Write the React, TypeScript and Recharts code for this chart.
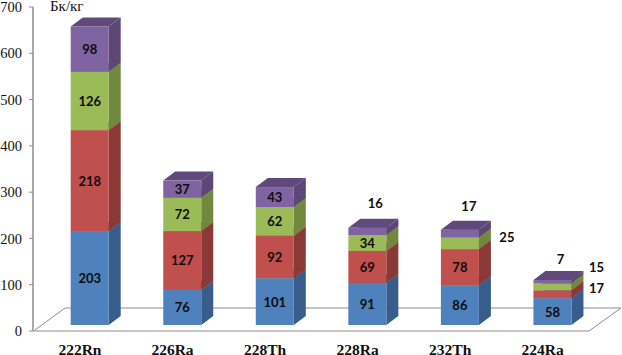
import React from "react";
import { BarChart, Bar, XAxis, YAxis, LabelList } from "recharts";

const categories = ["222Rn", "226Ra", "228Th", "228Ra", "232Th", "224Ra"];
const blueValues = [203, 76, 101, 91, 86, 58];
const redValues = [218, 127, 92, 69, 78, 17];
const greenValues = [126, 72, 62, 34, 25, 15];
const purpleValues = [98, 37, 43, 16, 17, 7];
const yTicks = [0, 100, 200, 300, 400, 500, 600, 700];

const chartData = categories.map((name, i) => ({
    name,
    blue: blueValues[i],
    red: redValues[i],
    green: greenValues[i],
    purple: purpleValues[i],
}));

// the columns stand a bit above the axis zero, on the floor of the 3D box
const LIFT = 6;
const DEPTH_X = 12;
const DEPTH_Y = 9;
const AXIS_GRAY = "#8c8c8c";

// labels that do not fit in their segment are moved out next to the column
const labelNudges: Record<string, [number, number]> = {
    "purple-3": [8, -29],
    "purple-4": [9, -28],
    "green-4": [47, -6],
    "purple-5": [8, -23],
    "green-5": [44, -20],
    "red-5": [44, -6],
};

const box3d = (front: string, side: string, top: string) => (props: any) => {
    const { x, y, width, height } = props;
    const t = y - LIFT;
    const b = t + height;
    const r = x + width;
    return (
        <g>
            <polygon
                points={`${r},${t} ${r + DEPTH_X},${t - DEPTH_Y} ${r + DEPTH_X},${b - DEPTH_Y} ${r},${b}`}
                fill={side}
            />
            <polygon
                points={`${x},${t} ${x + DEPTH_X},${t - DEPTH_Y} ${r + DEPTH_X},${t - DEPTH_Y} ${r},${t}`}
                fill={top}
            />
            <rect x={x} y={t} width={width} height={height} fill={front} />
        </g>
    );
};

const valueLabel = (series: string) => (props: any) => {
    const { x, y, width, height, value, index } = props;
    const [dx, dy] = labelNudges[`${series}-${index}`] || [0, 0];
    return (
        <text
            x={x + width / 2 + dx}
            y={y - LIFT + height / 2 + dy}
            textAnchor="middle"
            dominantBaseline="central"
            fontFamily="Lato"
            fontWeight={700}
            fontSize={13}
            fill="#0d0d0d"
        >
            {value}
        </text>
    );
};

const App = () => {
    return (
        <div style={{ position: "absolute", left: 0, top: 0, width: 622, height: 355 }}>
            <BarChart
                width={622}
                height={355}
                data={chartData}
                barSize={38}
                margin={{ top: 7, right: 12, bottom: 0, left: 0 }}
            >
                <path
                    d="M33 331 L589 331 L621 308 L65 308 L35 330"
                    fill="none"
                    stroke={AXIS_GRAY}
                    strokeWidth={1}
                />
                <YAxis
                    width={33}
                    domain={[0, 700]}
                    ticks={yTicks}
                    interval={0}
                    tickSize={4}
                    tickMargin={7}
                    axisLine={{ stroke: AXIS_GRAY, strokeWidth: 1.5 }}
                    tickLine={{ stroke: AXIS_GRAY }}
                    tick={{ fontFamily: "Liberation Serif", fontSize: 14.5, fill: "#111" }}
                />
                <XAxis
                    dataKey="name"
                    axisLine={false}
                    tickLine={false}
                    padding={{ left: 10.7, right: 11 }}
                    height={24}
                    tickMargin={7}
                    dx={-10}
                    tick={{ fontFamily: "Liberation Serif", fontWeight: 700, fontSize: 15.5, fill: "#111" }}
                />
                <Bar dataKey="blue" stackId="a" isAnimationActive={false} shape={box3d("#4f81bd", "#385d8a", "#385d8a")}>
                    <LabelList dataKey="blue" content={valueLabel("blue")} />
                </Bar>
                <Bar dataKey="red" stackId="a" isAnimationActive={false} shape={box3d("#c0504d", "#8c3836", "#8c3836")}>
                    <LabelList dataKey="red" content={valueLabel("red")} />
                </Bar>
                <Bar dataKey="green" stackId="a" isAnimationActive={false} shape={box3d("#9bbb59", "#71893f", "#71893f")}>
                    <LabelList dataKey="green" content={valueLabel("green")} />
                </Bar>
                <Bar dataKey="purple" stackId="a" isAnimationActive={false} shape={box3d("#8064a2", "#5c4776", "#604a7b")}>
                    <LabelList dataKey="purple" content={valueLabel("purple")} />
                </Bar>
                <text x={50} y={11} fontFamily="Liberation Serif" fontSize={15} fill="#111">
                    Бк/кг
                </text>
            </BarChart>
        </div>
    );
};

export default App;
